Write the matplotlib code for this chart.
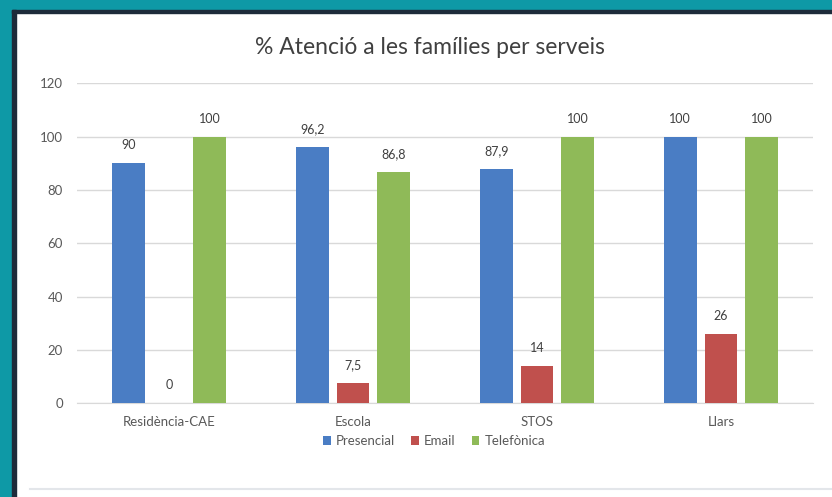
import matplotlib
matplotlib.use("Agg")
import matplotlib.pyplot as plt
import numpy as np
from matplotlib.patches import Rectangle
from matplotlib.lines import Line2D

categories = ["Residència-CAE", "Escola", "STOS", "Llars"]
presencial = [90, 96.2, 87.9, 100]
email = [0, 7.5, 14, 26]
telefonica = [100, 86.8, 100, 100]
series_names = ["Presencial", "Email", "Telefònica"]
yticks = [0, 20, 40, 60, 80, 100, 120]

colors = ["#4A7DC4", "#C0504D", "#8FBA58"]
plt.rcParams['font.family'] = ['Lato', 'DejaVu Sans']

fig = plt.figure(figsize=(8.32, 4.97), dpi=100)
fig.patch.set_facecolor("white")

# frame decoration
W, H = 832, 497
def rect(x, y, w, h, c):
    fig.patches.append(Rectangle((x / W, 1 - (y + h) / H), w / W, h / H,
                                 transform=fig.transFigure, color=c, zorder=0))
rect(0, 0, W, 10, "#0E99A6")
rect(0, 0, 12, H, "#0E99A6")
rect(12, 10, W - 12, 3, "#1D2B3A")
rect(12, 10, 4, H - 10, "#1D2B3A")
fig.lines.append(Line2D([30 / W, 1], [1 - 489 / H] * 2, transform=fig.transFigure,
                        color="#E3E6EA", lw=1.5))

ax = fig.add_axes([77 / W, 1 - 403.3 / H, (813 - 77) / W, 320 / H])
x = np.arange(len(categories))
width = 0.178
offset = 0.222
data = [presencial, email, telefonica]

def fmt(v):
    s = ("%g" % v)
    return s.replace(".", ",")

for i, (vals, name, c) in enumerate(zip(data, series_names, colors)):
    bars = ax.bar(x + (i - 1) * offset, vals, width, color=c, label=name, zorder=3)
    for b, v in zip(bars, vals):
        ax.annotate(fmt(v), (b.get_x() + b.get_width() / 2, v),
                    xytext=(0, 13), textcoords="offset points",
                    ha="center", va="center", fontsize=9, color="#404040")

ax.set_xlim(-0.5, 3.5)
ax.set_ylim(0, 120)
ax.set_yticks(yticks)
ax.set_xticks(x)
ax.set_xticklabels(categories)
ax.grid(axis="y", color="#D9D9D9", lw=1, zorder=0)
for s in ["top", "right", "left"]:
    ax.spines[s].set_visible(False)
ax.spines["bottom"].set_color("#D9D9D9")
ax.tick_params(axis="both", length=0, colors="#595959", labelsize=9.5)
ax.tick_params(axis="y", pad=10)
ax.tick_params(axis="x", pad=9)

fig.text(430 / W, 1 - 47 / H, "% Atenció a les famílies per serveis",
         ha="center", va="center", fontsize=16.5, color="#404040")

leg = ax.legend(loc="center", bbox_to_anchor=(434 / W, 1 - 441 / H),
                bbox_transform=fig.transFigure, ncol=3, frameon=False,
                fontsize=9.5, handlelength=0.6, handleheight=0.6,
                handletextpad=0.4, columnspacing=1.2)
for t in leg.get_texts():
    t.set_color("#595959")

fig.savefig("out.png", dpi=100, facecolor="white")
